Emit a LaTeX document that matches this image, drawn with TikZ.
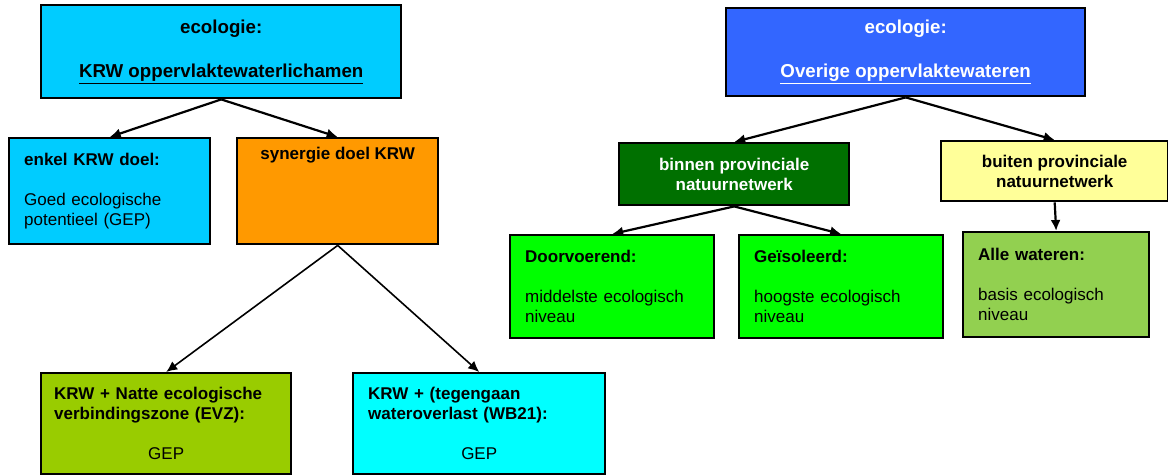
\documentclass[tikz,border=0pt]{standalone}
\usepackage{fontspec}
\setmainfont{Liberation Sans}
\usetikzlibrary{arrows.meta}

\definecolor{krwblauw}{RGB}{0,204,255}
\definecolor{oranje}{RGB}{255,153,0}
\definecolor{olijf}{RGB}{153,204,0}
\definecolor{turkoois}{RGB}{0,255,255}
\definecolor{overigblauw}{RGB}{51,102,255}
\definecolor{donkergroen}{RGB}{0,112,0}
\definecolor{lichtgeel}{RGB}{255,255,153}
\definecolor{felgroen}{RGB}{0,255,0}
\definecolor{grasgroen}{RGB}{146,208,80}

\tikzset{
  blok/.style={draw=black, line width=2.4pt, anchor=north west, inner xsep=15pt, inner ysep=0pt,
    align=left, font=\fontsize{17}{20}\selectfont},
  kop/.style={blok, align=center, font=\fontsize{18.7}{22}\selectfont\bfseries},
  tak/.style={blok, align=center, font=\fontsize{17}{20}\selectfont\bfseries},
  pijl/.style={-{Latex[length=11pt,width=10pt]}, line width=2.2pt},
}

\begin{document}
\begin{tikzpicture}[x=1pt,y=-1pt]
    \useasboundingbox (0,0) rectangle (1168,475);

    \node[kop, fill=krwblauw, minimum width=360pt, minimum height=93pt] (top1) at (40,4)
        {ecologie:\\[22pt]\underline{KRW oppervlaktewaterlichamen}};
    \node[blok, fill=krwblauw, text width=171pt, minimum height=106pt] (enkel) at (8,137)
        {\textbf{enkel KRW doel:}\\[20pt]Goed ecologische\\potentieel (GEP)};
    \node[blok, fill=oranje, minimum width=201pt, minimum height=106pt] (synergie) at (236,137) {};
    \node[font=\fontsize{17}{20}\selectfont\bfseries] (synT) at ([yshift=-18pt]synergie.north) {synergie doel KRW};
    \node[blok, fill=olijf, inner xsep=13pt, text width=224pt, minimum height=101pt] (natte) at (40,372)
        {\textbf{KRW + Natte ecologische}\\\textbf{verbindingszone (EVZ):}\\[20pt]\makebox[224pt]{GEP}};
    \node[blok, fill=turkoois, text width=222pt, minimum height=101pt] (wb21) at (352,372)
        {\textbf{KRW + (tegengaan}\\\textbf{wateroverlast (WB21):}\\[20pt]\makebox[222pt]{GEP}};

    \node[kop, fill=overigblauw, text=white, minimum width=359pt, minimum height=88pt] (overig) at (725,7)
        {ecologie:\\[22pt]\underline{Overige oppervlaktewateren}};
    \node[tak, fill=donkergroen, text=white, minimum width=230pt, minimum height=62pt] (binnen) at (618,142)
        {binnen provinciale\\natuurnetwerk};
    \node[tak, fill=lichtgeel, minimum width=227pt, minimum height=60pt] (buiten) at (940,140)
        {buiten provinciale\\natuurnetwerk};
    \node[blok, fill=felgroen, text width=174pt, minimum height=103pt] (doorv) at (509,234)
        {\textbf{Doorvoerend:}\\[20pt]middelste ecologisch\\niveau};
    \node[blok, fill=felgroen, text width=174pt, minimum height=103pt] (geis) at (738,234)
        {\textbf{Geïsoleerd:}\\[20pt]hoogste ecologisch\\niveau};
    \node[blok, fill=grasgroen, text width=156pt, minimum height=105pt] (alle) at (962,231)
        {\textbf{Alle wateren:}\\[20pt]basis ecologisch\\niveau};

    \draw[pijl] (top1.south) -- (enkel.north);
    \draw[pijl] (top1.south) -- (synergie.north);
    \draw[pijl, line width=1.6pt] (synergie.south) -- (natte.north);
    \draw[pijl, line width=1.6pt] (synergie.south) -- (wb21.north);
    \draw[pijl] (overig.south) -- (binnen.north);
    \draw[pijl] (overig.south) -- (buiten.north);
    \draw[pijl] (binnen.south) -- (doorv.north);
    \draw[pijl] (binnen.south) -- (geis.north);
    \draw[pijl] (buiten.south) -- (alle.north);
\end{tikzpicture}
\end{document}
